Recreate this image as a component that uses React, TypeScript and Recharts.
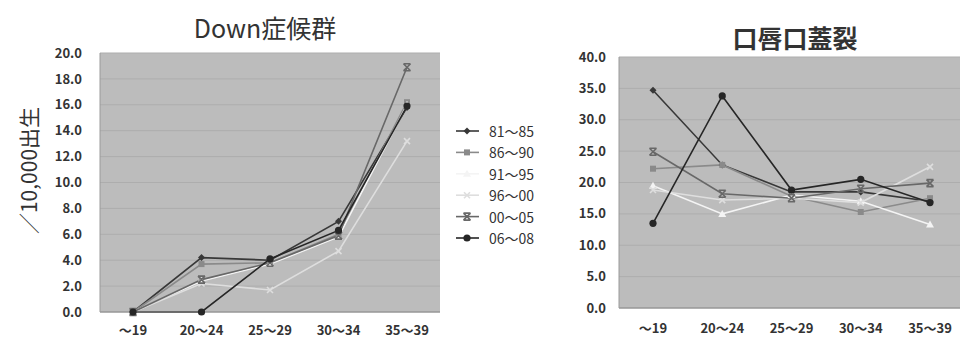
import React from 'react';
import { LineChart, Line, XAxis, YAxis, CartesianGrid, Label } from 'recharts';

const ageGroups = ['～19', '20～24', '25～29', '30～34', '35～39'];
const periods = ['81～85', '86～90', '91～95', '96～00', '00～05', '06～08'];

// Down症候群, per 10,000 births
const down8185 = [0, 4.2, 4.0, 7.0, 15.8];
const down8690 = [0, 3.7, 3.8, 6.0, 16.2];
const down9195 = [0, 2.4, 3.7, 5.8, 16.0];
const down9600 = [0, 2.2, 1.7, 4.7, 13.2];
const down0005 = [0, 2.5, 3.8, 5.9, 18.9];
const down0608 = [0, 0, 4.1, 6.3, 15.9];

// 口唇口蓋裂, per 10,000 births
const cleft8185 = [34.7, 22.8, 18.5, 18.5, 17.0];
const cleft8690 = [22.2, 22.8, 17.8, 15.3, 17.5];
const cleft9195 = [19.5, 15.0, 18.0, 17.0, 13.3];
const cleft9600 = [18.8, 17.2, 17.5, 16.8, 22.5];
const cleft0005 = [24.9, 18.2, 17.5, 19.0, 19.9];
const cleft0608 = [13.5, 33.8, 18.8, 20.5, 16.8];

const downTicks = [0, 2, 4, 6, 8, 10, 12, 14, 16, 18, 20];
const cleftTicks = [0, 5, 10, 15, 20, 25, 30, 35, 40];

type Shape = 'diamond' | 'square' | 'triangle' | 'cross' | 'star' | 'circle';

const seriesStyle: { color: string; shape: Shape }[] = [
  { color: '#383838', shape: 'diamond' },
  { color: '#8a8a8a', shape: 'square' },
  { color: '#f4f4f4', shape: 'triangle' },
  { color: '#dedede', shape: 'cross' },
  { color: '#686868', shape: 'star' },
  { color: '#262626', shape: 'circle' },
];

const toRows = (cols: number[][]) =>
  ageGroups.map((group, i) => {
    const row: Record<string, string | number> = { group };
    cols.forEach((c, k) => {
      row['s' + k] = c[i];
    });
    return row;
  });

const downData = toRows([down8185, down8690, down9195, down9600, down0005, down0608]);
const cleftData = toRows([cleft8185, cleft8690, cleft9195, cleft9600, cleft0005, cleft0608]);

const FONT = '"Noto Sans CJK JP", "Noto Sans", sans-serif';
const PLOT_BG = '#bcbcbc';
const GRID = '#adadad';
const TEXT = '#333';

function Marker({ cx, cy, shape, color }: { cx: number; cy: number; shape: Shape; color: string }) {
  switch (shape) {
    case 'diamond':
      return <path d={`M${cx},${cy - 3.5}L${cx + 3.5},${cy}L${cx},${cy + 3.5}L${cx - 3.5},${cy}Z`} fill={color} />;
    case 'square':
      return <rect x={cx - 3} y={cy - 3} width={6} height={6} fill={color} />;
    case 'triangle':
      return <path d={`M${cx},${cy - 4}L${cx + 4},${cy + 3}L${cx - 4},${cy + 3}Z`} fill={color} />;
    case 'cross':
      return (
        <path d={`M${cx - 3},${cy - 3}L${cx + 3},${cy + 3}M${cx + 3},${cy - 3}L${cx - 3},${cy + 3}`} stroke={color} strokeWidth={1.6} />
      );
    case 'star':
      return (
        <path
          d={`M${cx - 3.5},${cy - 3.5}L${cx + 3.5},${cy + 3.5}M${cx + 3.5},${cy - 3.5}L${cx - 3.5},${cy + 3.5}M${cx - 3.5},${cy - 3.5}L${cx + 3.5},${cy - 3.5}M${cx - 3.5},${cy + 3.5}L${cx + 3.5},${cy + 3.5}`}
          stroke={color}
          strokeWidth={1.6}
        />
      );
    default:
      return <circle cx={cx} cy={cy} r={3.6} fill={color} />;
  }
}

const dotFor = (k: number) => (p: any) => (
  <Marker key={`${k}-${p.index}`} cx={p.cx} cy={p.cy} shape={seriesStyle[k].shape} color={seriesStyle[k].color} />
);

const tickStyle = { fill: TEXT, fontSize: 13, fontWeight: 700, fontFamily: FONT };

const renderSeries = () =>
  periods.map((name, k) => (
    <Line
      key={name}
      type="linear"
      dataKey={'s' + k}
      name={name}
      stroke={seriesStyle[k].color}
      strokeWidth={1.6}
      dot={dotFor(k)}
      activeDot={false}
      isAnimationActive={false}
    />
  ));

const unitLabel = (props: any) => {
  const { viewBox } = props;
  const x = viewBox.x - 27;
  const y = viewBox.y + viewBox.height / 2 - 12;
  return (
    <text
      x={x}
      y={y}
      transform={`rotate(-90, ${x}, ${y})`}
      textAnchor="middle"
      dominantBaseline="central"
      fill={TEXT}
      fontSize={21}
      fontFamily={FONT}
    >
      ／10,000出生
    </text>
  );
};

function PeriodLegend() {
  return (
    <svg width={110} height={140} style={{ position: 'absolute', left: 448, top: 118 }}>
      {periods.map((name, k) => {
        const y = 13 + k * 21.4;
        return (
          <g key={name}>
            <line x1={8} x2={31} y1={y} y2={y} stroke={seriesStyle[k].color} strokeWidth={1.6} />
            <Marker cx={19} cy={y} shape={seriesStyle[k].shape} color={seriesStyle[k].color} />
            <text x={41} y={y} dominantBaseline="central" fill={TEXT} fontSize={14} fontFamily={FONT}>
              {name}
            </text>
          </g>
        );
      })}
    </svg>
  );
}

const titleStyle: React.CSSProperties = {
  position: 'absolute',
  fontFamily: FONT,
  fontSize: 25,
  color: TEXT,
  lineHeight: '30px',
  transform: 'translateX(-50%)',
  whiteSpace: 'nowrap',
};

export default function App() {
  return (
    <div
      style={{
        position: 'absolute',
        left: 0,
        top: 0,
        width: 960,
        height: 342,
        overflow: 'hidden',
        background: '#fff',
      }}
    >
      <div style={{ ...titleStyle, left: 265, top: 12 }}>Down症候群</div>
      <div style={{ ...titleStyle, left: 795, top: 22, fontWeight: 700 }}>口唇口蓋裂</div>

      <div style={{ position: 'absolute', left: 0, top: 0 }}>
        <LineChart width={450} height={342} data={downData} margin={{ top: 53, right: 10, bottom: 0, left: 55 }}>
          <CartesianGrid vertical={false} stroke={GRID} fill={PLOT_BG} />
          <XAxis
            dataKey="group"
            height={30}
            padding={{ left: 33, right: 33 }}
            tickLine={false}
            tickSize={0}
            tickMargin={14}
            axisLine={{ stroke: '#8c8c8c' }}
            tick={tickStyle}
            interval={0}
          />
          <YAxis
            domain={[0, 20]}
            ticks={downTicks}
            width={45}
            tickLine={false}
            tickSize={0}
            tickMargin={18}
            axisLine={{ stroke: '#9a9a9a' }}
            tick={tickStyle}
            tickFormatter={(v: number) => v.toFixed(1)}
          >
            <Label content={unitLabel} />
          </YAxis>
          {renderSeries()}
        </LineChart>
      </div>

      <PeriodLegend />

      <div style={{ position: 'absolute', left: 560, top: 0 }}>
        <LineChart width={404} height={342} data={cleftData} margin={{ top: 57, right: 0, bottom: 0, left: 14 }}>
          <CartesianGrid vertical={false} stroke={GRID} fill={PLOT_BG} />
          <XAxis
            dataKey="group"
            height={34}
            padding={{ left: 34, right: 34 }}
            tickLine={false}
            tickSize={0}
            tickMargin={16}
            axisLine={{ stroke: '#8c8c8c' }}
            tick={tickStyle}
            interval={0}
          />
          <YAxis
            domain={[0, 40]}
            ticks={cleftTicks}
            width={45}
            tickLine={false}
            tickSize={0}
            tickMargin={13}
            axisLine={{ stroke: '#9a9a9a' }}
            tick={tickStyle}
            tickFormatter={(v: number) => v.toFixed(1)}
          />
          {renderSeries()}
        </LineChart>
      </div>
    </div>
  );
}
